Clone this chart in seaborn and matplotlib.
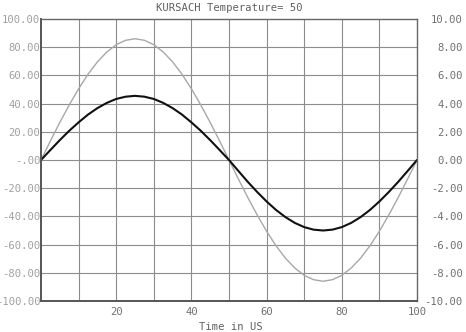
import matplotlib
matplotlib.use("Agg")
import matplotlib.pyplot as plt
import seaborn as sns
import pandas as pd
from matplotlib.ticker import FixedLocator, FixedFormatter

time_us = [0, 2.5, 5, 7.5, 10, 12.5, 15, 17.5, 20, 22.5, 25, 27.5, 30, 32.5, 35, 37.5, 40,
           42.5, 45, 47.5, 50, 52.5, 55, 57.5, 60, 62.5, 65, 67.5, 70, 72.5, 75, 77.5, 80,
           82.5, 85, 87.5, 90, 92.5, 95, 97.5, 100]
gray_series = [0, 13.5, 26.6, 39.0, 50.5, 60.8, 69.6, 76.6, 81.8, 84.9, 86.0, 84.9, 81.8, 76.6,
               69.6, 60.8, 50.5, 39.0, 26.6, 13.5, 0, -13.5, -26.6, -39.0, -50.5, -60.8, -69.6,
               -76.6, -81.8, -84.9, -86.0, -84.9, -81.8, -76.6, -69.6, -60.8, -50.5, -39.0,
               -26.6, -13.5, 0]
black_series = [0, 7.1, 14.1, 20.7, 26.7, 32.2, 36.8, 40.5, 43.3, 44.9, 45.5, 44.9, 43.3, 40.5,
                36.8, 32.2, 26.7, 20.7, 14.1, 7.1, 0, -7.8, -15.5, -22.7, -29.4, -35.4, -40.5,
                -44.6, -47.6, -49.4, -50.0, -49.4, -47.6, -44.6, -40.5, -35.4, -29.4, -22.7,
                -15.5, -7.8, 0]

left_ticks = [100, 80, 60, 40, 20, 0, -20, -40, -60, -80, -100]
left_labels = ["100.00", "80.00", "60.00", "40.00", "20.00", "-.00", "-20.00", "-40.00",
               "-60.00", "-80.00", "-100.00"]
right_ticks = [10, 8, 6, 4, 2, 0, -2, -4, -6, -8, -10]
right_labels = ["10.00", "8.00", "6.00", "4.00", "2.00", "0.00", "-2.00", "-4.00", "-6.00",
                "-8.00", "-10.00"]
x_ticks = [20, 40, 60, 80, 100]
x_labels = ["20", "40", "60", "80", "100"]
title = "KURSACH Temperature= 50"
xlabel = "Time in US"

sns.set_style("white")
plt.rcParams['font.family'] = ['DejaVu Sans Mono']

df = pd.DataFrame({"t": time_us, "gray": gray_series, "black": black_series})

fig = plt.figure(figsize=(4.66, 3.32), dpi=100)
ax = fig.add_axes([41/466, 1-301/332, (417-41)/466, (301-19)/332])

ax.set_xlim(0, 100)
ax.set_ylim(-100, 100)
for xv in range(10, 100, 10):
    ax.axvline(xv, color="#8c8c8c", lw=0.8, zorder=0)
for yv in range(-80, 100, 20):
    ax.axhline(yv, color="#8c8c8c", lw=0.8, zorder=0)

sns.lineplot(data=df, x="t", y="gray", ax=ax, color="#a8a8a8", lw=1.0, estimator=None, sort=False)
sns.lineplot(data=df, x="t", y="black", ax=ax, color="#111111", lw=1.5, estimator=None, sort=False)

ax.yaxis.set_major_locator(FixedLocator(left_ticks))
ax.yaxis.set_major_formatter(FixedFormatter(left_labels))
ax.xaxis.set_major_locator(FixedLocator(x_ticks))
ax.xaxis.set_major_formatter(FixedFormatter(x_labels))
ax.tick_params(axis="y", length=0, pad=0.5, labelsize=7.6, labelcolor="#a0a0a0")
ax.tick_params(axis="x", length=0, pad=4, labelsize=7.6, labelcolor="#707070")
ax.set_xlabel(xlabel, fontsize=7.6, color="#606060", labelpad=0)
ax.set_ylabel("")
ax.set_title(title, fontsize=7.6, color="#606060", pad=6)
ax.xaxis.set_label_coords(0.505, -0.075)

for s in ["left", "bottom"]:
    ax.spines[s].set_color("#555555")
    ax.spines[s].set_linewidth(1.4)
for s in ["top", "right"]:
    ax.spines[s].set_color("#666666")
    ax.spines[s].set_linewidth(1.0)
    ax.spines[s].set_visible(True)

ax2 = ax.twinx()
ax2.set_ylim(-10, 10)
ax2.yaxis.set_major_locator(FixedLocator(right_ticks))
ax2.yaxis.set_major_formatter(FixedFormatter(right_labels))
ax2.tick_params(axis="y", length=0, pad=33, labelsize=7.6, labelcolor="#707070")
for lbl in ax2.get_yticklabels():
    lbl.set_horizontalalignment("right")
for s in ax2.spines.values():
    s.set_visible(False)

fig.savefig("out.png", dpi=100)
